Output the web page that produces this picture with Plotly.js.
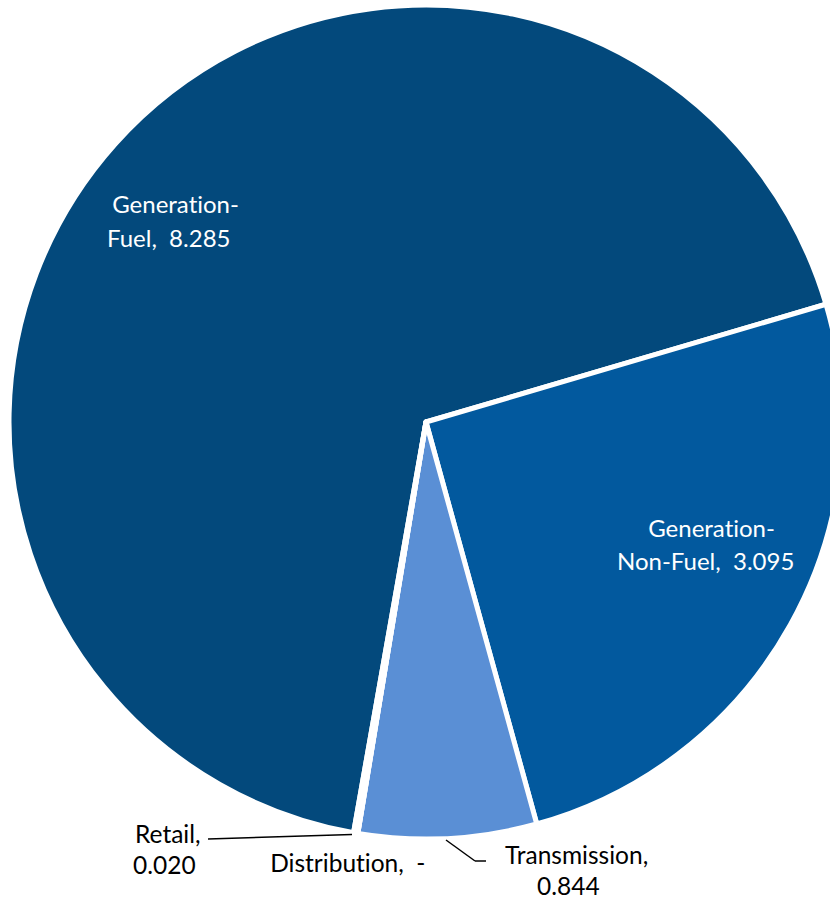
<!DOCTYPE html>
<html>
<head>
<meta charset="utf-8">
<script src="https://cdn.plot.ly/plotly-3.0.1.min.js"></script>
<style>
html, body { margin: 0; padding: 0; overflow: hidden; background: #fff; }
#chart { width: 860px; height: 902px; }
#chart text { font-variant-ligatures: none; font-feature-settings: "liga" 0; }
</style>
</head>
<body>
<div id="chart"></div>
<script>
// Data
const categories = ["Generation-Fuel", "Generation-Non-Fuel", "Transmission", "Distribution", "Retail"];
const values = [8.285, 3.095, 0.844, 0, 0.020];
const valueLabels = ["8.285", "3.095", "0.844", "-", "0.020"];
const sliceColors = ["#03497c", "#02599e", "#5a8fd5", "#7fa9e0", "#a9c4eb"];

// Layout geometry
const W = 860, H = 902, M = {l: 9, r: 17, t: 5, b: 63};
const pw = W - M.l - M.r, ph = H - M.t - M.b;
const px = x => (x - M.l) / pw;
const py = y => 1 - (y - M.t) / ph;

const FONT = "Lato, 'Open Sans', sans-serif";
const FS = 24;

function lab(text, x, y, color, anchor, size) {
  return {
    text: text, xref: "paper", yref: "paper", x: px(x), y: py(y),
    xanchor: anchor || "center", yanchor: "middle", showarrow: false,
    font: {family: FONT, size: size || FS, color: color}
  };
}

const annotations = [
  lab("Generation-", 175, 204, "#ffffff"),
  lab(categories[0].split("-")[1] + ",&nbsp; " + valueLabels[0], 168, 237, "#ffffff"),
  lab("Generation-", 711, 527, "#ffffff"),
  lab(categories[1].split("Generation-")[1] + ",&nbsp; " + valueLabels[1], 705, 560, "#ffffff"),
  lab(categories[2] + ",", 576, 854, "#000000", "center", 24.5),
  lab(valueLabels[2], 568, 885, "#000000", "center", 24.5),
  lab(categories[3] + ",&nbsp; " + valueLabels[3], 348, 862, "#000000", "center", 24.5),
  lab(categories[4] + ",", 133, 833, "#000000", "left", 24.5),
  lab(valueLabels[4], 131, 864, "#000000", "left", 24.5)
];

function seg(x0, y0, x1, y1) {
  return {type: "line", xref: "paper", yref: "paper",
    x0: px(x0), y0: py(y0), x1: px(x1), y1: py(y1),
    line: {color: "#000000", width: 1.5}};
}
const shapes = [
  seg(208, 839, 352, 834.5),
  seg(446, 840, 475, 861),
  seg(475, 861, 486, 861)
];

const data = [{
  type: "pie",
  labels: categories,
  values: values,
  sort: false,
  direction: "clockwise",
  rotation: 190,
  textinfo: "none",
  hoverinfo: "label+value",
  marker: {colors: sliceColors, line: {color: "#ffffff", width: 5}},
  domain: {x: [0, 1], y: [0, 1]}
}];

const layout = {
  width: W, height: H,
  margin: M,
  showlegend: false,
  paper_bgcolor: "#ffffff",
  annotations: annotations,
  shapes: shapes
};

Plotly.newPlot("chart", data, layout, {displayModeBar: false, staticPlot: true});
</script>
</body>
</html>
